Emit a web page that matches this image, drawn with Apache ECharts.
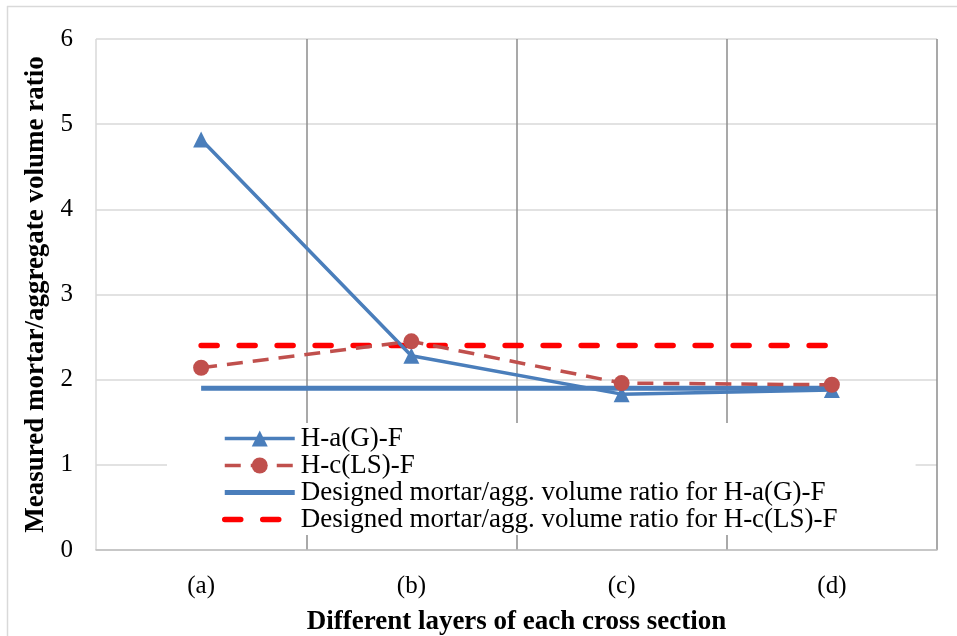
<!DOCTYPE html>
<html>
<head>
<meta charset="utf-8">
<script src="https://cdn.jsdelivr.net/npm/echarts@6/dist/echarts.min.js"></script>
<style>html,body{margin:0;padding:0;background:#fff;}#c{width:957px;height:636px;}</style>
</head>
<body>
<div id="c"></div>
<script>
const categories = ['(a)', '(b)', '(c)', '(d)'];
const haG = [4.82, 2.28, 1.83, 1.88];
const hcLS = [2.14, 2.45, 1.96, 1.94];
const designedA = [1.90, 1.90, 1.90, 1.90];
const designedC = [2.40, 2.40, 2.40, 2.40];
const seriesNames = ['H-a(G)-F', 'H-c(LS)-F', 'Designed mortar/agg. volume ratio for H-a(G)-F', 'Designed mortar/agg. volume ratio for H-c(LS)-F'];

const FONT = '"Liberation Serif", "Times New Roman", serif';
const chart = echarts.init(document.getElementById('c'), null, {renderer: 'canvas'});
chart.setOption({
  animation: false,
  backgroundColor: '#ffffff',
  textStyle: {fontFamily: FONT, color: '#000'},
  graphic: [
    {type: 'line', shape: {x1: 7.5, y1: 6, x2: 7.5, y2: 636}, style: {stroke: '#d9d9d9', lineWidth: 1.5}},
    {type: 'line', shape: {x1: 7, y1: 6.5, x2: 957, y2: 6.5}, style: {stroke: '#d9d9d9', lineWidth: 1.5}}
  ],
  grid: {left: 96, right: 20, top: 39, bottom: 86, containLabel: false, outerBoundsMode: 'none'},
  xAxis: {
    type: 'category',
    data: categories,
    boundaryGap: true,
    axisLine: {show: true, lineStyle: {color: '#bfbfbf', width: 1.5}},
    axisTick: {show: false},
    axisLabel: {fontFamily: FONT, fontSize: 25, color: '#000', margin: 24},
    splitLine: {show: true, lineStyle: {color: ['#d9d9d9', '#8c8c8c', '#8c8c8c', '#8c8c8c', '#8c8c8c'], width: 1.5}},
    name: 'Different layers of each cross section',
    nameLocation: 'middle',
    nameGap: 59,
    nameTextStyle: {fontFamily: FONT, fontSize: 27, fontWeight: 'bold', color: '#000'}
  },
  yAxis: {
    type: 'value',
    min: 0, max: 6, interval: 1,
    axisLine: {show: false},
    axisTick: {show: false},
    axisLabel: {fontFamily: FONT, fontSize: 25, color: '#000', margin: 23},
    splitLine: {show: true, lineStyle: {color: '#d9d9d9', width: 1.5}},
    name: 'Measured mortar/aggregate volume ratio',
    nameLocation: 'middle',
    nameGap: 45,
    nameTextStyle: {fontFamily: FONT, fontSize: 27, fontWeight: 'bold', color: '#000'}
  },
  legend: {
    orient: 'vertical',
    left: 167,
    top: 423,
    padding: [2, 78, 2, 55],
    itemGap: 0,
    itemWidth: 70,
    itemHeight: 20,
    backgroundColor: '#ffffff',
    textStyle: {fontFamily: FONT, fontSize: 27, lineHeight: 27, color: '#000', padding: [0, 0, 0, 1]},
    data: [
      {name: seriesNames[0], lineStyle: {width: 3.5}},
      {name: seriesNames[1], lineStyle: {width: 3.5}},
      {name: seriesNames[2], lineStyle: {width: 5}, itemStyle: {opacity: 0}},
      {name: seriesNames[3], lineStyle: {width: 5.5}, itemStyle: {opacity: 0}}
    ]
  },
  series: [
    {
      name: seriesNames[0], type: 'line', data: haG,
      symbol: 'triangle', symbolSize: 16,
      itemStyle: {color: '#4a7ebb'},
      lineStyle: {color: '#4a7ebb', width: 3.5}, z: 3
    },
    {
      name: seriesNames[1], type: 'line', data: hcLS,
      symbol: 'circle', symbolSize: 16,
      itemStyle: {color: '#c0504d'},
      lineStyle: {color: '#c0504d', width: 3.5, type: [16, 10]}, z: 4
    },
    {
      name: seriesNames[2], type: 'line', data: designedA,
      symbol: 'none', showSymbol: false,
      itemStyle: {color: '#4a7ebb'},
      lineStyle: {color: '#4a7ebb', width: 5}, z: 2
    },
    {
      name: seriesNames[3], type: 'line', data: designedC,
      symbol: 'none', showSymbol: false,
      itemStyle: {color: '#ff0000'},
      lineStyle: {color: '#ff0000', width: 5.5, type: [16, 22], cap: 'round'}, z: 2
    }
  ]
});
</script>
</body>
</html>
